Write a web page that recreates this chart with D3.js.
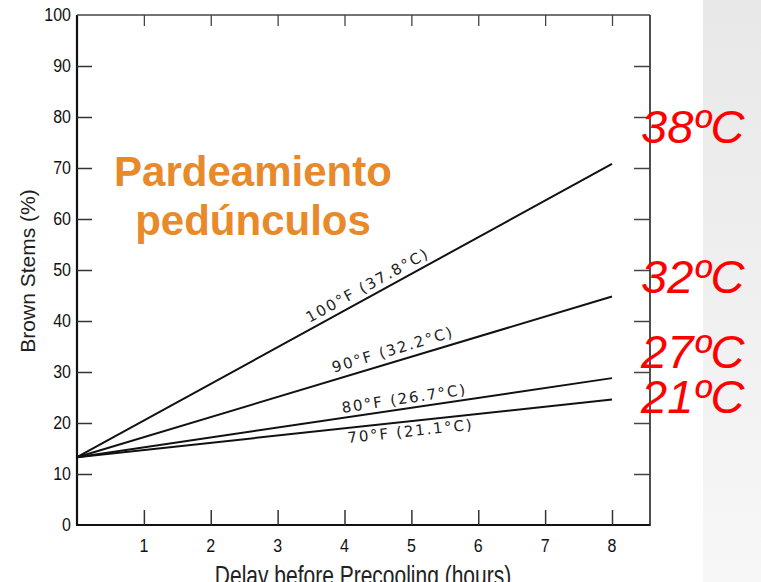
<!DOCTYPE html>
<html>
<head>
<meta charset="utf-8">
<script src="https://cdn.jsdelivr.net/npm/d3@7"></script>
<style>
  html, body { margin: 0; padding: 0; background: #fff; }
  svg { display: block; }
</style>
</head>
<body>
<script>
// ---- data ----
const hours = [0, 8];
const seriesNames = ["100°F (37.8°C)", "90°F (32.2°C)", "80°F (26.7°C)", "70°F (21.1°C)"];
const seriesValues = [
  [13.3, 70.8],
  [13.3, 44.8],
  [13.3, 28.8],
  [13.3, 24.6]
];
const celsiusLabels = ["38ºC", "32ºC", "27ºC", "21ºC"];
const xTicks = [1, 2, 3, 4, 5, 6, 7, 8];
const yTicks = [0, 10, 20, 30, 40, 50, 60, 70, 80, 90, 100];
const titleLines = ["Pardeamiento", "pedúnculos"];
const xTitle = "Delay before Precooling (hours)";
const yTitle = "Brown Stems (%)";

// ---- layout ----
const W = 761, H = 582;
const svg = d3.select("body").append("svg").attr("width", W).attr("height", H);

// right gray panel
const defs = svg.append("defs");
const grad = defs.append("linearGradient").attr("id", "panel").attr("x1", 0).attr("y1", 0).attr("x2", 0).attr("y2", 1);
grad.append("stop").attr("offset", "0%").attr("stop-color", "#e8e8e8");
grad.append("stop").attr("offset", "100%").attr("stop-color", "#f7f7f7");
svg.append("rect").attr("x", 703).attr("y", 0).attr("width", W - 703).attr("height", H).attr("fill", "url(#panel)");

const x = d3.scaleLinear().domain([0, 8]).range([77, 612]);
const y = d3.scaleLinear().domain([0, 100]).range([525, 15]);
const xRight = 650;

const g = svg.append("g");

// frame
g.append("line").attr("x1", 77).attr("x2", 77).attr("y1", y(100)).attr("y2", y(0)).attr("stroke", "#111").attr("stroke-width", 2.2);
g.append("line").attr("x1", 76).attr("x2", xRight).attr("y1", y(0)).attr("y2", y(0)).attr("stroke", "#111").attr("stroke-width", 2);
g.append("line").attr("x1", 77).attr("x2", xRight).attr("y1", y(100)).attr("y2", y(100)).attr("stroke", "#444").attr("stroke-width", 1.3);
g.append("line").attr("x1", xRight).attr("x2", xRight).attr("y1", y(100)).attr("y2", y(0) + 1).attr("stroke", "#222").attr("stroke-width", 1.6);

const font = "'Liberation Sans', Arial, sans-serif";

// left axis (ticks inside)
const yAxisL = d3.axisRight(y).tickValues(yTicks.filter(d => d > 0 && d < 100)).tickSize(15).tickFormat("");
g.append("g").attr("transform", "translate(77,0)").call(yAxisL)
  .call(s => s.select(".domain").remove())
  .call(s => s.selectAll(".tick line").attr("stroke", "#333").attr("stroke-width", 1.5));
// y tick labels
g.append("g").selectAll("text").data(yTicks).join("text")
  .attr("transform", d => `translate(71,${y(d) + 6}) scale(1,1.1)`)
  .attr("text-anchor", "end")
  .attr("font-family", font).attr("font-size", 16).attr("fill", "#111")
  .text(d => d);

// right axis ticks (inside)
const yAxisR = d3.axisLeft(y).tickValues(yTicks.filter(d => d > 0 && d < 100)).tickSize(16).tickFormat("");
g.append("g").attr("transform", `translate(${xRight},0)`).call(yAxisR)
  .call(s => s.select(".domain").remove())
  .call(s => s.selectAll(".tick line").attr("stroke", "#444").attr("stroke-width", 1.5));

// bottom axis ticks (inside)
const xAxisB = d3.axisTop(x).tickValues(xTicks).tickSize(15).tickFormat("");
g.append("g").attr("transform", `translate(0,${y(0)})`).call(xAxisB)
  .call(s => s.select(".domain").remove())
  .call(s => s.selectAll(".tick line").attr("stroke", "#333").attr("stroke-width", 1.5));
g.append("g").selectAll("text").data(xTicks).join("text")
  .attr("transform", d => `translate(${x(d)},552) scale(1,1.1)`)
  .attr("text-anchor", "middle")
  .attr("font-family", font).attr("font-size", 16).attr("fill", "#111")
  .text(d => d);

// top axis ticks (inside)
const xAxisT = d3.axisBottom(x).tickValues(xTicks).tickSize(11).tickFormat("");
g.append("g").attr("transform", `translate(0,${y(100)})`).call(xAxisT)
  .call(s => s.select(".domain").remove())
  .call(s => s.selectAll(".tick line").attr("stroke", "#444").attr("stroke-width", 1.3));

// axis titles
svg.append("text")
  .attr("transform", "translate(363,585) scale(1,1.35)").attr("text-anchor", "middle")
  .attr("font-family", font).attr("font-size", 21).attr("fill", "#222")
  .text(xTitle);
svg.append("text")
  .attr("transform", "translate(35,271) rotate(-90)").attr("text-anchor", "middle")
  .attr("font-family", font).attr("font-size", 21).attr("fill", "#222")
  .text(yTitle);

// series lines
const line = d3.line().x((d, i) => x(hours[i])).y(d => y(d));
g.selectAll("path.series").data(seriesValues).join("path")
  .attr("class", "series")
  .attr("d", d => line(d))
  .attr("fill", "none").attr("stroke", "#111").attr("stroke-width", 2);

// line labels along lines
const labelStart = [3.52, 3.87, 3.98, 4.03];
const labelOffset = [-6, -7, -5, 15];
seriesValues.forEach((vals, i) => {
  const x0 = x(hours[0]), y0 = y(vals[0]), x1 = x(hours[1]), y1 = y(vals[1]);
  const ang = Math.atan2(y1 - y0, x1 - x0) * 180 / Math.PI;
  const t = labelStart[i] / hours[1];
  const px = x0 + (x1 - x0) * t, py = y0 + (y1 - y0) * t;
  svg.append("text")
    .attr("transform", `translate(${px},${py}) rotate(${ang})`)
    .attr("y", labelOffset[i])
    .attr("font-family", "'DejaVu Sans', sans-serif").attr("font-size", 15)
    .attr("letter-spacing", 1.8)
    .attr("fill", "#222")
    .text(seriesNames[i]);
});

// orange title
svg.append("g").selectAll("text").data(titleLines).join("text")
  .attr("x", 253).attr("y", (d, i) => 186 + i * 49)
  .attr("text-anchor", "middle")
  .attr("font-family", font).attr("font-weight", "bold").attr("font-size", 42)
  .attr("fill", "#E8892A")
  .text(d => d);

// red celsius labels
const redBaselines = [143, 293, 368, 413];
svg.append("g").selectAll("text").data(celsiusLabels).join("text")
  .attr("x", 641).attr("y", (d, i) => redBaselines[i])
  .attr("font-family", font).attr("font-style", "italic").attr("font-size", 47)
  .attr("fill", "#FF0000")
  .text(d => d);
</script>
</body>
</html>
